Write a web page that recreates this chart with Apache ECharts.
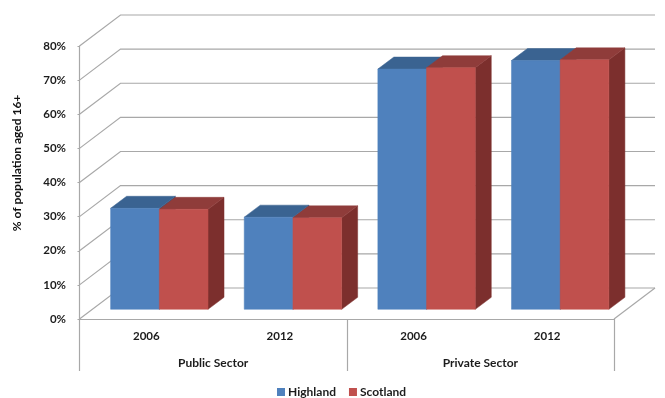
<!DOCTYPE html>
<html>
<head>
<meta charset="utf-8">
<title>Sector employment, Highland and Scotland</title>
<script src="https://cdn.jsdelivr.net/npm/echarts@6/dist/echarts.min.js"></script>
<style>
html, body { margin: 0; padding: 0; background: #fff; }
#chart { width: 665px; height: 398px; }
</style>
</head>
<body>
<div id="chart"></div>
<script>
// Values in % of population aged 16+
const years = ['2006', '2012', '2006', '2012'];
const sectors = ['Public Sector', 'Private Sector'];
const highland = [29.6, 27.0, 70.4, 72.9];
const scotland = [29.3, 26.8, 70.8, 73.1];
const yTicks = [0, 10, 20, 30, 40, 50, 60, 70, 80];

const FONT = 'Lato';
const TEXT = '#1c1c1c';
const WALL = '#a8a8a8';

// Oblique projection: how far the back wall and the bar bases sit from the front plane
const WALL_DX = 41, WALL_DY = -31;
const BASE_DX = 13, BASE_DY = -9.7;
const BAR_DX = 16, BAR_DY = -12;
const BAR_RATIO = 0.3645;

function poly(points, fill) {
  return { type: 'polygon', shape: { points }, style: { fill, stroke: fill, lineWidth: 0.5 } };
}

function wallItem(params, api) {
  const cs = params.coordSys;
  const y = api.coord([0, api.value(1)])[1];
  const left = cs.x, right = cs.x + cs.width;
  const lineStyle = { stroke: WALL, lineWidth: 1.2, fill: null };
  const children = [{
    type: 'polyline',
    shape: { points: [[left, y], [left + WALL_DX, y + WALL_DY], [right + WALL_DX, y + WALL_DY]] },
    style: lineStyle
  }];
  if (api.value(1) === 0) {
    children.push({
      type: 'line',
      shape: { x1: right, y1: y, x2: right + WALL_DX, y2: y + WALL_DY },
      style: lineStyle
    });
  }
  return { type: 'group', children };
}

// side: -1 draws left of the category centre, 0 draws right of it
function barRenderer(side, colors) {
  return function (params, api) {
    const cat = api.value(0);
    const center = api.coord([cat, 0])[0];
    const band = api.size([1, 0])[0];
    const w = band * BAR_RATIO;
    const x0 = center + BASE_DX + side * w;
    const x1 = x0 + w;
    const yb = api.coord([cat, 0])[1] + BASE_DY;
    const yt = api.coord([cat, api.value(1)])[1] + BASE_DY;
    return {
      type: 'group',
      children: [
        poly([[x1, yb], [x1 + BAR_DX, yb + BAR_DY], [x1 + BAR_DX, yt + BAR_DY], [x1, yt]], colors.side),
        poly([[x0, yt], [x0 + BAR_DX, yt + BAR_DY], [x1 + BAR_DX, yt + BAR_DY], [x1, yt]], colors.top),
        poly([[x0, yb], [x1, yb], [x1, yt], [x0, yt]], colors.front)
      ]
    };
  };
}

const blue = { front: '#4f81bd', top: '#3a6391', side: '#2f5480' };
const red = { front: '#c0504d', top: '#8f3c3a', side: '#7c2f2d' };

const chart = echarts.init(document.getElementById('chart'), null, { renderer: 'canvas' });
chart.setOption({
  animation: false,
  textStyle: { fontFamily: FONT },
  grid: { left: 79.5, right: 51, top: 46, bottom: 79, containLabel: false },
  legend: {
    left: 272, top: 381,
    data: ['Highland', 'Scotland'],
    icon: 'rect', itemWidth: 8, itemHeight: 8, itemGap: 13,
    textStyle: { fontFamily: FONT, fontSize: 12, fontWeight: 'bold', color: TEXT, padding: [0, 0, 0, -2] }
  },
  xAxis: [
    {
      type: 'category', data: years,
      axisLine: { lineStyle: { color: WALL, width: 1.2 } },
      axisTick: { show: false },
      axisLabel: { margin: 11, fontFamily: FONT, fontSize: 11.5, fontWeight: 'bold', color: TEXT }
    },
    {
      type: 'category', data: sectors, position: 'bottom',
      axisLine: { show: false },
      axisTick: { show: true, length: 52, lineStyle: { color: WALL, width: 1.2 } },
      axisLabel: { margin: 38, fontFamily: FONT, fontSize: 12, fontWeight: 'bold', color: TEXT }
    }
  ],
  yAxis: {
    type: 'value', min: 0, max: 80, interval: 10,
    name: '% of population aged 16+',
    nameLocation: 'middle', nameGap: 56, nameRotate: 90,
    nameTextStyle: { fontFamily: FONT, fontSize: 12, fontWeight: 'bold', color: '#111', padding: [0, 0, 0, 39] },
    axisLine: { show: true, lineStyle: { color: WALL, width: 1.2 } },
    axisTick: { show: true, length: 2, lineStyle: { color: WALL } },
    splitLine: { show: false },
    axisLabel: { margin: 13.5, fontFamily: FONT, fontSize: 11.5, fontWeight: 'bold', color: TEXT, formatter: '{value}%', padding: [3, 0, 0, 0] }
  },
  series: [
    {
      type: 'custom', z: 1, silent: true,
      renderItem: wallItem,
      encode: { x: 0, y: 1 },
      data: yTicks.map(v => [0, v])
    },
    {
      name: 'Highland', type: 'custom', z: 2,
      itemStyle: { color: blue.front },
      renderItem: barRenderer(-1, blue),
      encode: { x: 0, y: 1 },
      data: highland.map((v, i) => [i, v])
    },
    {
      name: 'Scotland', type: 'custom', z: 3,
      itemStyle: { color: red.front },
      renderItem: barRenderer(0, red),
      encode: { x: 0, y: 1 },
      data: scotland.map((v, i) => [i, v])
    }
  ]
});
</script>
</body>
</html>
